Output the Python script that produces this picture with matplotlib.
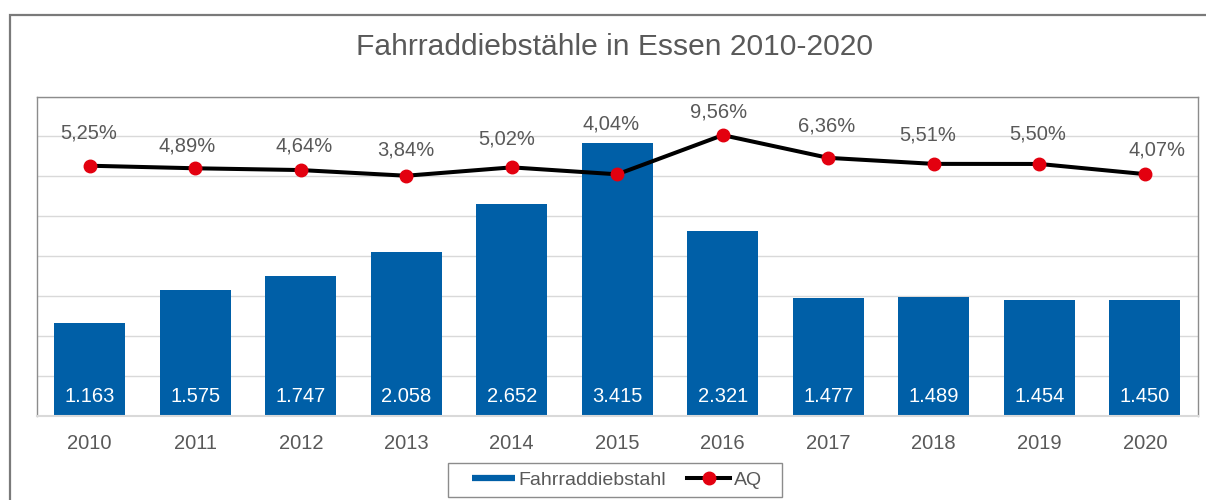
import matplotlib
matplotlib.use("Agg")
import matplotlib.pyplot as plt
from matplotlib.lines import Line2D
from matplotlib.patches import Rectangle

# ---- data ----
years = ["2010", "2011", "2012", "2013", "2014", "2015", "2016", "2017", "2018", "2019", "2020"]
thefts = [1163, 1575, 1747, 2058, 2652, 3415, 2321, 1477, 1489, 1454, 1450]
aq_percent = [5.25, 4.89, 4.64, 3.84, 5.02, 4.04, 9.56, 6.36, 5.51, 5.50, 4.07]

# label offsets (pixels) for the percentage labels, as placed in the original
aq_label_offsets = [(-1, 33), (-8, 22), (3, 24), (0, 26), (-5, 28), (-6, 50),
                    (-4, 23), (-2, 32), (-6, 29), (-2, 30), (12, 24)]

BLUE = "#005FA7"
RED = "#E3000F"
GRAY_TXT = "#595959"
FONT = "Liberation Sans"

plt.rcParams["font.family"] = [FONT, "DejaVu Sans"]

W, H = 1206, 500
fig = plt.figure(figsize=(W / 100, H / 100), dpi=100)
fig.patch.set_facecolor("white")

# outer chart frame
fig.add_artist(Rectangle((10 / W, -0.1), 1.2, (H - 15) / H + 0.1,
                         transform=fig.transFigure, fill=False,
                         edgecolor="#7a7a7a", linewidth=1.6, zorder=0))

left, right = 37 / W, 1197.5 / W
bottom, top = (H - 416) / H, (H - 96.5) / H
ax = fig.add_axes([left, bottom, right - left, top - bottom])

x = list(range(len(years)))
ax.bar(x, thefts, width=0.67, color=BLUE, zorder=2, label="Fahrraddiebstahl")
ax.set_xlim(-0.5, len(years) - 0.5)
ax.set_ylim(0, 4000)
ax.set_yticks(range(0, 4001, 500))
ax.yaxis.grid(True, color="#D9D9D9", linewidth=1.0, zorder=0)
ax.set_axisbelow(True)
ax.set_xticks(x)
ax.set_xticklabels(years, fontsize=14.5, color=GRAY_TXT)
for s in ["top", "left", "right"]:
    ax.spines[s].set_color("#8c8c8c")
    ax.spines[s].set_linewidth(1.0)
ax.spines["bottom"].set_color("#D9D9D9")
ax.spines["bottom"].set_linewidth(1.5)

for xi, v in zip(x, thefts):
    ax.annotate(f"{v:,}".replace(",", "."), xy=(xi, 0), xytext=(0, 20),
                textcoords="offset pixels", ha="center", va="center",
                fontsize=14.5, color="white", zorder=3)

ax2 = ax.twinx()
ax2.set_ylim(-30, 15)
ax2.plot(x, aq_percent, color="black", linewidth=2.9, marker="o",
         markersize=9, markerfacecolor=RED, markeredgecolor=RED, zorder=4)
ax2.set_yticks([])
for s in ax2.spines.values():
    s.set_visible(False)

ax.tick_params(axis="y", left=False, right=False, labelleft=False, labelright=False)
ax.tick_params(axis="x", length=0, pad=13)
ax2.tick_params(axis="both", length=0, labelright=False)

for xi, v, (dx, dy) in zip(x, aq_percent, aq_label_offsets):
    ax2.annotate(f"{v:.2f}".replace(".", ",") + "%", xy=(xi, v), xytext=(dx, dy),
                 textcoords="offset pixels", ha="center", va="center",
                 fontsize=14.5, color=GRAY_TXT)

fig.text(615 / W, (H - 47) / H, "Fahrraddiebstähle in Essen 2010-2020",
         ha="center", va="center", fontsize=21.6, color=GRAY_TXT)

handles = [Line2D([], [], color=BLUE, linewidth=4.5, solid_capstyle="butt"),
           Line2D([], [], color="black", linewidth=2.9, marker="o", markersize=9,
                  markerfacecolor=RED, markeredgecolor=RED)]
leg = fig.legend(handles, ["Fahrraddiebstahl", "AQ"], ncol=2,
                 loc="center", bbox_to_anchor=(617 / W, (H - 480) / H),
                 fontsize=14, frameon=False,
                 handlelength=2.2, handletextpad=0.2, columnspacing=1.1,
                 borderpad=0.35, labelcolor=GRAY_TXT)
# legend frame as in the original (wider padding than matplotlib's)
fig.add_artist(Rectangle((448 / W, (H - 497) / H), (782 - 448) / W, 34 / H,
                         transform=fig.transFigure, fill=False,
                         edgecolor="#8c8c8c", linewidth=1.0))

fig.savefig("out.png", dpi=100, facecolor="white")
